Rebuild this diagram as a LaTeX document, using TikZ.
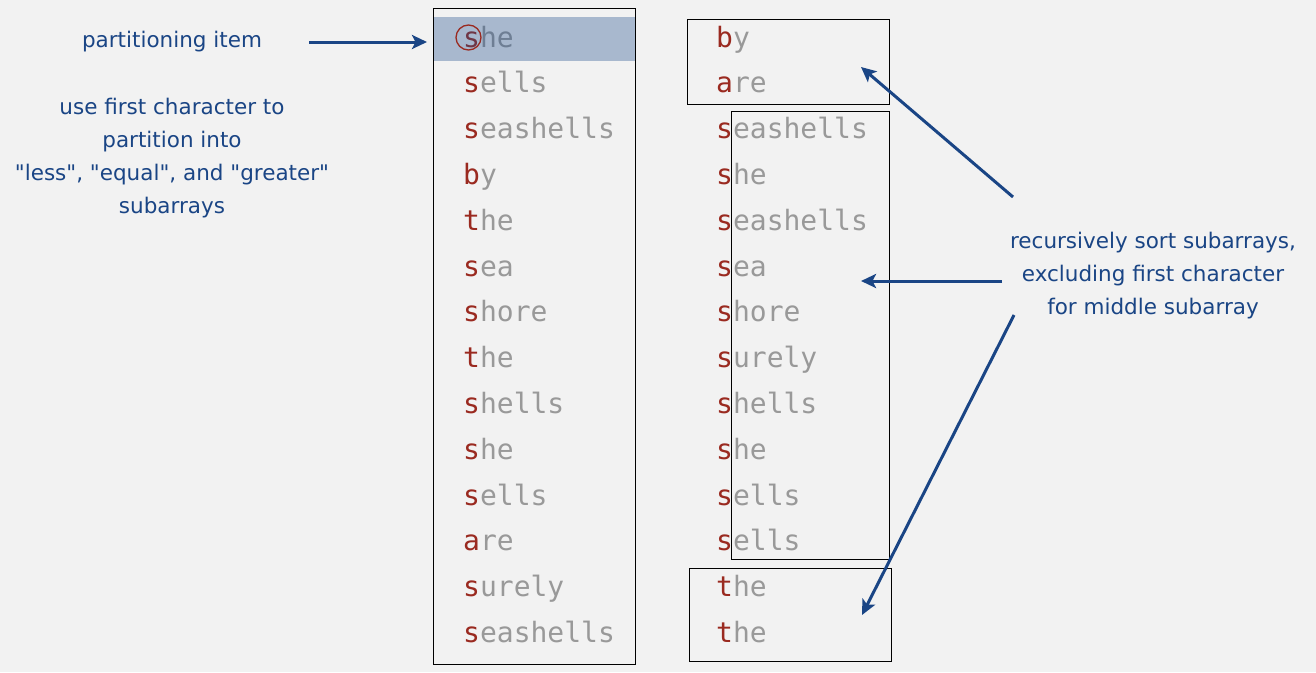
\documentclass[tikz,border=0pt]{standalone}
\usepackage{fontspec}
\setmainfont{DejaVu Sans}[Ligatures=TeXOff]
\newfontfamily\wmono{DejaVu Sans Mono}
\usetikzlibrary{arrows.meta}
\definecolor{bg}{HTML}{F2F2F2}
\definecolor{keyred}{HTML}{9A2A20}
\definecolor{restgray}{HTML}{999999}
\definecolor{navy}{HTML}{1A4585}
\definecolor{hlblue}{RGB}{31,78,140}
\newcommand{\wrd}[2]{{\color{keyred}#1\color{restgray}#2}}
\tikzset{
  word/.style={anchor=base west, inner sep=0pt, font=\wmono\fontsize{28}{28}\selectfont},
  lbl/.style={align=center, text=navy, inner sep=0pt, font=\fontsize{21.5}{33}\selectfont},
  box/.style={draw=black, line width=1pt},
  arr/.style={draw=navy, line width=3pt, -{Stealth[length=15pt,width=14pt,inset=3.5pt]}},
}
\begin{document}
\begin{tikzpicture}[x=1pt,y=-1pt]
\fill[bg] (0,0) rectangle (1316,672);
\useasboundingbox (0,0) rectangle (1316,672);
% left column
\foreach \i/\a/\b in {0/s/he,1/s/ells,2/s/eashells,3/b/y,4/t/he,5/s/ea,6/s/hore,7/t/he,8/s/hells,9/s/he,10/s/ells,11/a/re,12/s/urely,13/s/eashells}{
  \node[word] (L\i) at (463,{47+45.8*\i}) {\wrd{\a}{\b}};
}
\foreach \i/\a/\b in {0/b/y,1/a/re,2/s/eashells,3/s/he,4/s/eashells,5/s/ea,6/s/hore,7/s/urely,8/s/hells,9/s/he,10/s/ells,11/s/ells,12/t/he,13/t/he}{
  \node[word] (R\i) at (716,{47+45.8*\i}) {\wrd{\a}{\b}};
}
% highlight
\fill[hlblue, fill opacity=0.35] (433,17) rectangle (636,61);
\draw[keyred, line width=1.3pt] (468.5,37.5) circle (12.5pt);
% boxes
\draw[box] (433,8) rectangle (635,664);
\draw[box] (687,19) rectangle (889,104);
\draw[box] (731,111) rectangle (889,559);
\draw[box] (689,568) rectangle (891,661);
% labels
\node[lbl] (pi) at (172,42) {partitioning item};
\node[lbl] (use) at (172,158) {use first character to\\partition into\\"less", "equal", and "greater"\\subarrays};
\node[lbl] (rec) at (1153,276) {recursively sort subarrays,\\excluding first character\\for middle subarray};
% arrows
\coordinate (p0) at (309,42);
\coordinate (p1) at (427,42);
\coordinate (a1s) at (1013,197);
\coordinate (a1e) at (861,67);
\coordinate (a2s) at (1002,281);
\coordinate (a2e) at (861,281);
\coordinate (a3s) at (1014,315);
\coordinate (a3e) at (862,615);
\draw[arr] (p0) -- (p1);
\draw[arr] (a1s) -- (a1e);
\draw[arr] (a2s) -- (a2e);
\draw[arr] (a3s) -- (a3e);
\end{tikzpicture}
\end{document}
